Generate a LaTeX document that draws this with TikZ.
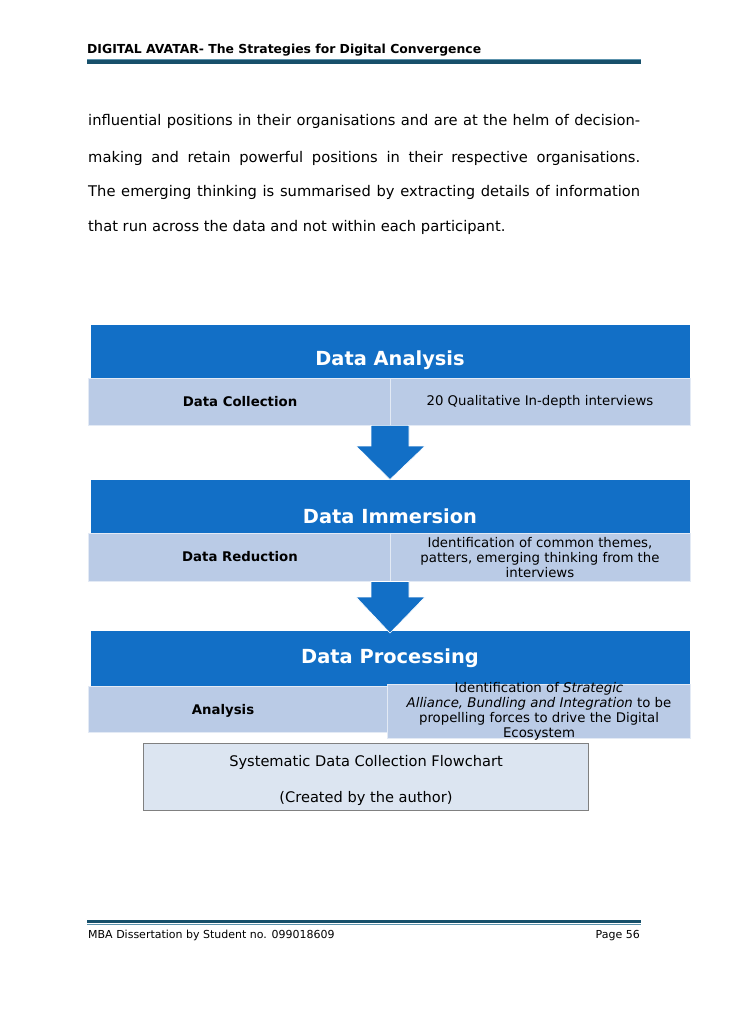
\documentclass[tikz,border=0pt]{standalone}
\usepackage{fontspec}
\setmainfont{DejaVu Sans}
\definecolor{sablue}{HTML}{126FC6}
\definecolor{salight}{HTML}{BACBE6}
\definecolor{sacap}{HTML}{DCE5F1}
\definecolor{ruledark}{HTML}{17506B}
\definecolor{rulelight}{HTML}{5C93AD}
\definecolor{capborder}{HTML}{808080}
\tikzset{
  pagefont/.style={font=\fontsize{14.7}{17}\selectfont, inner sep=0pt, anchor=west},
  bluebar/.style={fill=sablue, draw=none, anchor=north west, inner sep=0pt, minimum width=599pt},
  lightcell/.style={fill=salight, draw=white!60!salight, line width=0.8pt, anchor=north west, inner sep=0pt},
  titletext/.style={text=white, font=\bfseries\fontsize{19.4}{22}\selectfont, inner sep=0pt},
  celltext/.style={font=\fontsize{13.3}{15}\selectfont, inner sep=0pt, align=center, text=black},
  captext/.style={font=\fontsize{14.6}{17}\selectfont, inner sep=0pt, text=black},
  cellbold/.style={font=\bfseries\fontsize{13.3}{15}\selectfont, inner sep=0pt},
  bigarrow/.style={fill=sablue, draw=white, line width=0.6pt},
  foottext/.style={inner sep=0pt, font=\fontsize{11}{13}\selectfont},
}
\begin{document}
\begin{tikzpicture}[x=1pt,y=-1pt]
\useasboundingbox (0,0) rectangle (728,1030);
\fill[white] (0,0) rectangle (728,1030);
% header
\node[anchor=west, inner sep=0pt, font=\bfseries\fontsize{12.4}{14}\selectfont] (hdr) at (87,50.5) {DIGITAL AVATAR- The Strategies for Digital Convergence};
\fill[rulelight] (87,59) rectangle (641,60.2);
\fill[ruledark] (87,60.5) rectangle (641,64.5);
% body text
\node[pagefont] (l1) at (88,121) {\makebox[552pt][s]{influential positions in their organisations and are at the helm of decision-}};
\node[pagefont] (l2) at (88,158.5) {\makebox[552pt][s]{making and retain powerful positions in their respective organisations.}};
\node[pagefont] (l3) at (88,192.5) {\makebox[552pt][s]{The emerging thinking is summarised by extracting details of information}};
\node[pagefont] (l4) at (88,227.5) {that run across the data and not within each participant.};
% box 1
\node[bluebar, minimum height=53pt] (b1) at (91,325) {};
\node[titletext] (t1) at (390,360) {Data Analysis};
\node[lightcell, minimum width=302pt, minimum height=47pt] (c1l) at (88,378) {};
\node[lightcell, minimum width=300pt, minimum height=47pt] (c1r) at (390,378) {};
\node[cellbold] (c1lt) at (240,401.5) {Data Collection};
\node[celltext] (c1rt) at (540,401.5) {20 Qualitative In-depth interviews};
% box 2
\node[bluebar, minimum height=53pt] (b2) at (91,480) {};
\node[titletext] (t2) at (390,516) {Data Immersion};
\node[lightcell, minimum width=302pt, minimum height=48pt] (c2l) at (88,533) {};
\node[lightcell, minimum width=300pt, minimum height=48pt] (c2r) at (390,533) {};
\node[cellbold] (c2lt) at (240,557) {Data Reduction};
\node[celltext] (c2rt) at (540,557.5) {Identification of common themes,\\patters, emerging thinking from the\\interviews};
% box 3
\node[bluebar, minimum height=55pt] (b3) at (91,631) {};
\node[titletext] (t3) at (390,658) {Data Processing};
\node[lightcell, minimum width=300pt, minimum height=46pt] (c3l) at (88,686) {};
\node[lightcell, minimum width=303pt, minimum height=54pt] (c3r) at (387,684) {};
\node[cellbold] (c3lt) at (223,710.5) {Analysis};
\node[celltext] (c3rt) at (539,711.5) {Identification of \textit{Strategic}\\\textit{Alliance, Bundling and Integration} to be\\propelling forces to drive the Digital\\Ecosystem};
% arrows between the stages
\draw[bigarrow] (371,425.4) coordinate (a1) -- (409,425.4) -- (409,446) -- (425,446) -- (390,479.5) coordinate (a1tip) -- (356,446) -- (371,446) -- cycle;
\draw[bigarrow] (371,581.5) coordinate (a2) -- (409,581.5) -- (409,597) -- (425,597) -- (390,633) coordinate (a2tip) -- (356,597) -- (371,597) -- cycle;
% caption
\node[draw=capborder, fill=sacap, line width=0.8pt, anchor=north west, minimum width=445pt, minimum height=67pt, inner sep=0pt] (cap) at (143,743) {};
\node[captext] (cap1) at (366,762) {Systematic Data Collection Flowchart};
\node[captext] (cap2) at (366,798) {(Created by the author)};
% footer
\fill[ruledark] (87,919.5) rectangle (641,923);
\fill[rulelight] (87,923.5) rectangle (641,924.7);
\node[foottext, anchor=base west] (ftl) at (88,938) {MBA Dissertation by Student no. 099018609};
\node[foottext, anchor=base east] (ftr) at (640,938) {Page 56};
\end{tikzpicture}
\end{document}
